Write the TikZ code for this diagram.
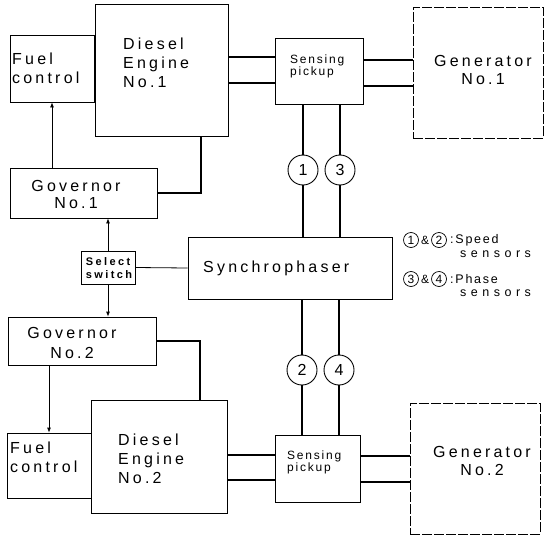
\documentclass[tikz,border=0pt]{standalone}
\usepackage{fontspec}
\setmainfont{Liberation Sans}
\newfontfamily\bigf[LetterSpace=20]{Liberation Sans}
\newfontfamily\midf[LetterSpace=15]{Liberation Sans}
\newfontfamily\swf[LetterSpace=22]{Liberation Sans}
\newfontfamily\legf[LetterSpace=14]{Liberation Sans}
\newfontfamily\legw[LetterSpace=36]{Liberation Sans}
\usetikzlibrary{arrows.meta}
\tikzset{
  blk/.style={draw, line width=0.8pt, rectangle, inner sep=0pt},
  genbox/.style={blk, line width=0.6pt, dash pattern=on 10pt off 2pt},
  bigtxt/.style={inner sep=0pt, font=\bigf\fontsize{16}{19}\selectfont},
  gentxt/.style={inner sep=0pt, align=center, font=\bigf\fontsize{16}{18}\selectfont},
  smtxt/.style={inner sep=0pt, align=left, font=\midf\fontsize{12}{12}\selectfont},
  swtxt/.style={inner sep=0pt, align=left, font=\swf\bfseries\fontsize{11}{13}\selectfont},
  legtxt/.style={inner sep=0pt, anchor=west, font=\legf\fontsize{12.5}{12}\selectfont},
  legwide/.style={inner sep=0pt, anchor=west, font=\legw\fontsize{12.5}{12}\selectfont},
  wire/.style={line width=1.4pt},
  thin/.style={line width=0.8pt},
  arr/.style={line width=0.8pt, -{Latex[length=5pt,width=4pt]}},
  sensor/.style={circle, draw, line width=0.9pt, minimum size=30pt, inner sep=0pt, font=\fontsize{16}{16}\selectfont},
  lcirc/.style={circle, draw, line width=0.7pt, minimum size=15pt, inner sep=0pt, font=\fontsize{12}{12}\selectfont},
  amp/.style={inner sep=0pt, font=\fontsize{12}{12}\selectfont},
}
\begin{document}
\begin{tikzpicture}[x=1pt,y=-1pt]
\useasboundingbox (0,0) rectangle (545,535);
\clip (0,0) rectangle (545,535);
\fill[white] (0,0) rectangle (545,535);
% boxes
\node[blk, minimum width=84pt, minimum height=67pt] (fc1) at (52,68.5) {};
\node[blk, minimum width=133pt, minimum height=132pt] (de1) at (161.5,70) {};
\node[blk, minimum width=88pt, minimum height=66pt] (sp1) at (319,71) {};
\node[genbox, minimum width=130pt, minimum height=131pt] (g1) at (478,72.5) {};
\node[blk, minimum width=147pt, minimum height=50pt] (gov1) at (83.5,193) {};
\node[blk, minimum width=54pt, minimum height=33pt] (sw) at (108,267.5) {};
\node[blk, minimum width=204pt, minimum height=62pt] (syn) at (290,268) {};
\node[blk, minimum width=148pt, minimum height=48pt] (gov2) at (82,341) {};
\node[blk, minimum width=136pt, minimum height=113pt] (de2) at (159,456.5) {};
\node[blk, minimum width=84pt, minimum height=65pt] (fc2) at (49,465.5) {};
\node[blk, minimum width=85pt, minimum height=67pt] (sp2) at (317.5,468.5) {};
\node[genbox, minimum width=130pt, minimum height=131pt] (g2) at (475,468.5) {};
% texts
\node[bigtxt, anchor=west, align=left] (tfc1) at (12,68) {Fuel\\control};
\node[bigtxt, anchor=west, align=left] (tde1) at (123,63) {Diesel\\Engine\\No.1};
\node[smtxt, anchor=west] (tsp1) at (290,66) {Sensing\\pickup};
\node[gentxt] (tg1) at (483,70) {Generator\\No.1};
\node[bigtxt, align=center, font=\bigf\fontsize{16}{17}\selectfont] (tgov1) at (76,194.5) {Governor\\No.1};
\node[swtxt] (tsw) at (109,268.5) {Select\\switch};
\node[bigtxt, anchor=west] (tsyn) at (203,268) {Synchrophaser};
\node[bigtxt, align=center, font=\bigf\fontsize{16}{20}\selectfont] (tgov2) at (72,343) {Governor\\No.2};
\node[bigtxt, anchor=west, align=left] (tfc2) at (10,457.5) {Fuel\\control};
\node[bigtxt, anchor=west, align=left] (tde2) at (118,458.5) {Diesel\\Engine\\No.2};
\node[smtxt, anchor=west] (tsp2) at (287,462) {Sensing\\pickup};
\node[gentxt] (tg2) at (482,461) {Generator\\No.2};
% sensors
\node[sensor] (s1) at (303,170) {1};
\node[sensor] (s3) at (340,170) {3};
\node[sensor] (s2) at (302,370) {2};
\node[sensor] (s4) at (339,370) {4};
% engine 1 connections
\draw[wire] ([yshift=14pt]sp1.west) -- ([yshift=14pt]sp1.west -| de1.east);
\draw[wire] ([yshift=-12pt]sp1.west) -- ([yshift=-12pt]sp1.west -| de1.east);
\draw[wire] ([yshift=11pt]sp1.east) -- ([yshift=11pt]sp1.east -| g1.west);
\draw[wire] ([yshift=-15pt]sp1.east) -- ([yshift=-15pt]sp1.east -| g1.west);
\draw[wire] ([xshift=39.5pt]de1.south) |- (gov1.east);
\draw[arr] (fc1.south |- gov1.north) -- (fc1.south);
% engine 2 connections
\draw[wire] ([yshift=13.5pt]sp2.west) -- ([yshift=13.5pt]sp2.west -| de2.east);
\draw[wire] ([yshift=-11.5pt]sp2.west) -- ([yshift=-11.5pt]sp2.west -| de2.east);
\draw[wire] ([yshift=12.5pt]sp2.east) -- ([yshift=12.5pt]sp2.east -| g2.west);
\draw[wire] ([yshift=-13.5pt]sp2.east) -- ([yshift=-13.5pt]sp2.east -| g2.west);
\draw[wire] (gov2.east) -| ([xshift=41pt]de2.north);
\draw[arr] (fc2.north |- gov2.south) -- (fc2.north);
% select switch
\draw[arr] (sw.north) -- (sw.north |- gov1.south);
\draw[arr] (sw.south) -- (sw.south |- gov2.north);
\draw[thin] (sw.east) -- (syn.west);
% sensor lines
\draw[wire] (s1.north) -- (s1.north |- sp1.south);
\draw[wire] (s3.north) -- (s3.north |- sp1.south);
\draw[wire] (s1.south) -- (s1.south |- syn.north);
\draw[wire] (s3.south) -- (s3.south |- syn.north);
\draw[wire] (s2.north) -- (s2.north |- syn.south);
\draw[wire] (s4.north) -- (s4.north |- syn.south);
\draw[wire] (s2.south) -- (s2.south |- sp2.north);
\draw[wire] (s4.south) -- (s4.south |- sp2.north);
% legend
\node[lcirc] (l1) at (411,240) {1};
\node[amp] (la1) at (425,240) {\&};
\node[lcirc] (l2) at (439,240) {2};
\node[legtxt] (lsp) at (450,240) {:Speed};
\node[legwide] (ls1) at (460,254) {sensors};
\node[lcirc] (l3) at (411,279) {3};
\node[amp] (la2) at (425,279) {\&};
\node[lcirc] (l4) at (439,279) {4};
\node[legtxt] (lph) at (450,279) {:Phase};
\node[legwide] (ls2) at (460,293) {sensors};
\end{tikzpicture}
\end{document}
